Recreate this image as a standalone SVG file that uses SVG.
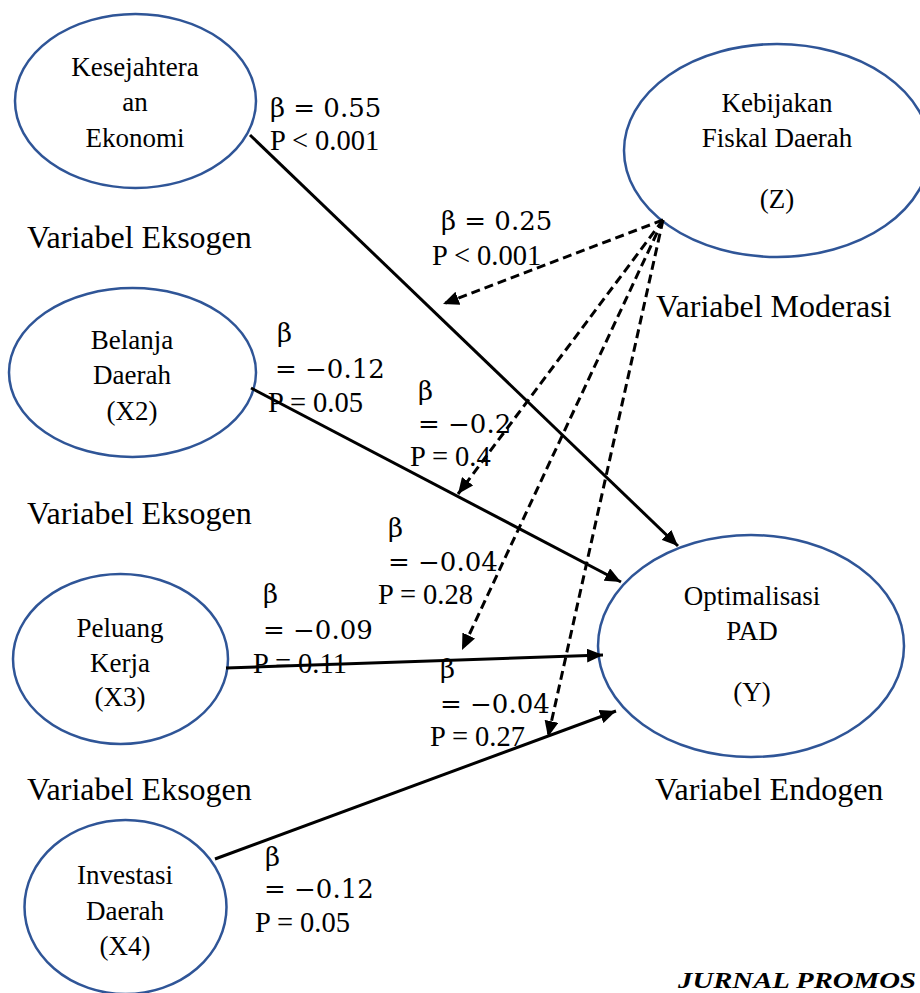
<svg xmlns="http://www.w3.org/2000/svg" width="920" height="993" viewBox="0 0 920 993">
<style>
.node{fill:none;stroke:#2F5597;stroke-width:2.5}
.nt{font-family:"Liberation Serif","Times New Roman",serif;font-size:27px;fill:#000;text-anchor:middle}
.var{font-family:"Liberation Serif","Times New Roman",serif;font-size:32px;fill:#000}
.lb{font-family:"Liberation Serif","Times New Roman",serif;font-size:28.5px;fill:#000}
.mb{font-family:"DejaVu Serif",serif;font-size:26px;fill:#000}
.solid{stroke:#000;stroke-width:3;fill:none;marker-end:url(#ah)}
.dash{stroke:#000;stroke-width:3;fill:none;stroke-dasharray:9 5;marker-end:url(#ah)}
.jr{font-family:"Liberation Serif","Times New Roman",serif;font-size:23px;font-weight:bold;font-style:italic;fill:#000}
</style>
<defs>
<marker id="ah" markerUnits="userSpaceOnUse" markerWidth="18" markerHeight="14" refX="16" refY="7" orient="auto">
<path d="M0,0 L16,7 L0,14 Z" fill="#000"/>
</marker>
</defs>
<rect width="920" height="993" fill="#fff"/>

<g id="node-x1">
<ellipse class="node" cx="135.5" cy="101" rx="120.5" ry="87"/>
<text class="nt" x="135" y="76">Kesejahtera</text>
<text class="nt" x="135" y="111">an</text>
<text class="nt" x="135" y="147">Ekonomi</text>
</g>
<g id="node-z">
<ellipse class="node" cx="777" cy="150.5" rx="153" ry="106.5"/>
<text class="nt" x="777" y="112">Kebijakan</text>
<text class="nt" x="777" y="147">Fiskal Daerah</text>
<text class="nt" x="777" y="208">(Z)</text>
</g>
<g id="node-x2">
<ellipse class="node" cx="132.5" cy="372.5" rx="123.5" ry="84.5"/>
<text class="nt" x="132" y="349">Belanja</text>
<text class="nt" x="132" y="384">Daerah</text>
<text class="nt" x="132" y="420">(X2)</text>
</g>
<g id="node-x3">
<ellipse class="node" cx="120.5" cy="659" rx="107.5" ry="85"/>
<text class="nt" x="120" y="637">Peluang</text>
<text class="nt" x="120" y="672">Kerja</text>
<text class="nt" x="120" y="706">(X3)</text>
</g>
<g id="node-x4">
<ellipse class="node" cx="125.5" cy="907" rx="101" ry="87"/>
<text class="nt" x="125" y="884">Investasi</text>
<text class="nt" x="125" y="920">Daerah</text>
<text class="nt" x="125" y="955">(X4)</text>
</g>
<g id="node-y">
<ellipse class="node" cx="751" cy="646" rx="153" ry="111"/>
<text class="nt" x="752" y="605">Optimalisasi</text>
<text class="nt" x="752" y="640">PAD</text>
<text class="nt" x="752" y="701">(Y)</text>
</g>

<g id="variable-labels">
<text class="var" x="27" y="248">Variabel Eksogen</text>
<text class="var" x="27" y="524">Variabel Eksogen</text>
<text class="var" x="27" y="800">Variabel Eksogen</text>
<text class="var" x="656" y="317">Variabel Moderasi</text>
<text class="var" x="655" y="800">Variabel Endogen</text>
<text class="jr" x="678" y="988" textLength="238" lengthAdjust="spacingAndGlyphs">JURNAL PROMOS</text>
</g>

<g id="path-labels" xml:space="preserve">
<text class="mb" x="270" y="117">β =  0.55</text>
<text class="lb" x="270" y="150">P &lt; 0.001</text>

<text class="mb" x="441" y="230">β =  0.25</text>
<text class="lb" x="432" y="265">P &lt; 0.001</text>

<text class="mb" x="277" y="342">β</text>
<text class="mb" x="275" y="378">=  −0.12</text>
<text class="lb" x="268" y="412">P = 0.05</text>

<text class="mb" x="418" y="400">β</text>
<text class="mb" x="418" y="433">=  −0.2</text>
<text class="lb" x="410" y="466">P = 0.4</text>

<text class="mb" x="388" y="537">β</text>
<text class="mb" x="388" y="571">=  −0.04</text>
<text class="lb" x="378" y="604">P = 0.28</text>

<text class="mb" x="263" y="603">β</text>
<text class="mb" x="263" y="639">=  −0.09</text>
<text class="lb" x="253" y="673">P = 0.11</text>

<text class="mb" x="440" y="678">β</text>
<text class="mb" x="440" y="713">=  −0.04</text>
<text class="lb" x="430" y="746">P = 0.27</text>

<text class="mb" x="265" y="866">β</text>
<text class="mb" x="264" y="898">=  −0.12</text>
<text class="lb" x="255" y="932">P = 0.05</text>
</g>

<g id="connectors">
<line class="solid" x1="250" y1="135" x2="678" y2="546"/>
<line class="solid" x1="251" y1="388" x2="621" y2="582"/>
<line class="solid" x1="226" y1="668" x2="603" y2="655"/>
<line class="solid" x1="215" y1="859" x2="616" y2="711"/>
<line class="dash" x1="663" y1="220" x2="443" y2="304"/>
<line class="dash" x1="663" y1="220" x2="458" y2="494"/>
<line class="dash" x1="663" y1="220" x2="462" y2="650"/>
<line class="dash" x1="663" y1="220" x2="548" y2="737"/>
</g>
</svg>
